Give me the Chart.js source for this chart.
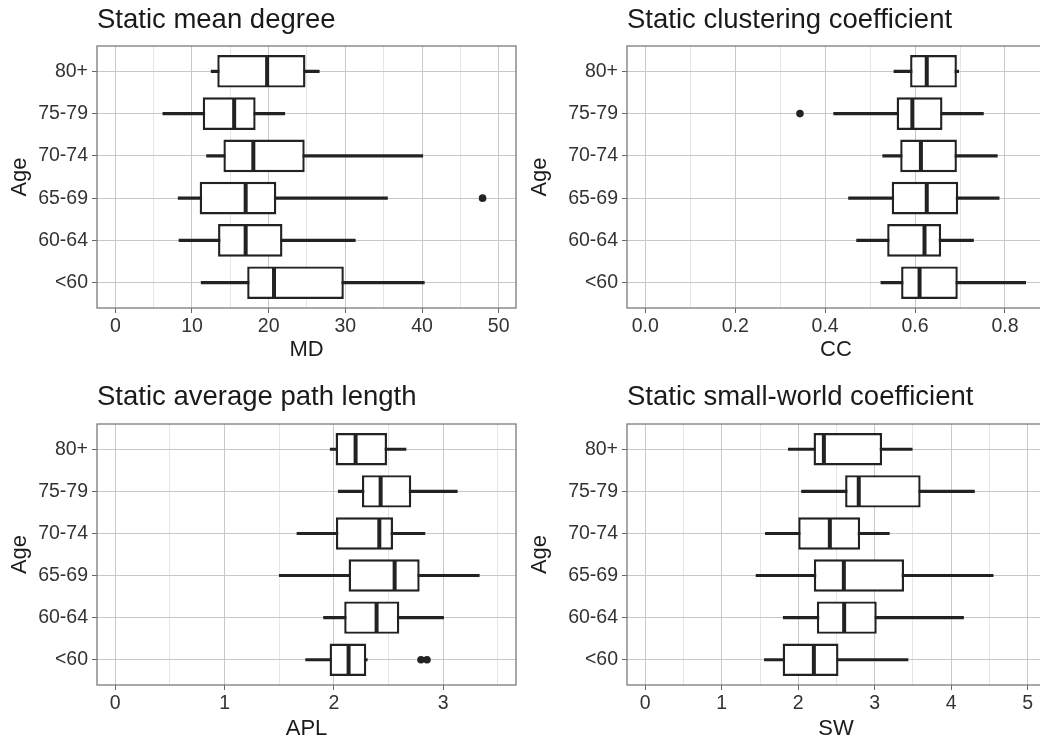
<!DOCTYPE html>
<html>
<head>
<meta charset="utf-8">
<title>Static network measures by age</title>
<script src="https://cdn.jsdelivr.net/npm/chart.js@4.4.0/dist/chart.umd.min.js"></script>
<style>
    html, body { margin: 0; padding: 0; background: #fff; width: 1040px; height: 741px; overflow: hidden; position: relative; }
    canvas { position: absolute; display: block; }
</style>
</head>
<body>
<canvas id="mdChart" width="520" height="370" style="left:0;top:0"></canvas>
<canvas id="ccChart" width="540" height="370" style="left:520px;top:0"></canvas>
<canvas id="aplChart" width="520" height="380" style="left:0;top:370px"></canvas>
<canvas id="swChart" width="540" height="380" style="left:520px;top:370px"></canvas>
<script>
// ::::: DATA :::::
const ageGroups = ['80+', '75-79', '70-74', '65-69', '60-64', '<60'];

// Static mean degree
const mdLow = [12.5, 6.2, 11.9, 8.2, 8.3, 11.2];
const mdQ1 = [13.3, 11.4, 14.1, 11.0, 13.4, 17.2];
const mdMedian = [19.8, 15.5, 18.0, 17.0, 17.0, 20.7];
const mdQ3 = [24.8, 18.3, 24.7, 21.0, 21.8, 29.8];
const mdHigh = [26.6, 22.1, 40.1, 35.5, 31.3, 40.3];
const mdOutlierAge = ['65-69'];
const mdOutlierValue = [47.9];
const mdTicks = [0, 10, 20, 30, 40, 50];
const mdTickLabels = ['0', '10', '20', '30', '40', '50'];
const mdMinorTicks = [5, 15, 25, 35, 45];

// Static clustering coefficient
const ccLow = [0.553, 0.419, 0.528, 0.452, 0.470, 0.524];
const ccQ1 = [0.589, 0.559, 0.567, 0.548, 0.538, 0.569];
const ccMedian = [0.626, 0.594, 0.613, 0.626, 0.621, 0.610];
const ccQ3 = [0.693, 0.661, 0.693, 0.696, 0.658, 0.695];
const ccHigh = [0.697, 0.752, 0.783, 0.787, 0.730, 0.846];
const ccOutlierAge = ['75-79'];
const ccOutlierValue = [0.344];
const ccTicks = [0, 0.2, 0.4, 0.6, 0.8];
const ccTickLabels = ['0.0', '0.2', '0.4', '0.6', '0.8'];
const ccMinorTicks = [0.1, 0.3, 0.5, 0.7];

// Static average path length
const aplLow = [1.966, 2.04, 1.662, 1.50, 1.905, 1.741];
const aplQ1 = [2.015, 2.256, 2.018, 2.134, 2.094, 1.96];
const aplMedian = [2.198, 2.427, 2.415, 2.555, 2.39, 2.134];
const aplQ3 = [2.485, 2.707, 2.54, 2.784, 2.598, 2.296];
const aplHigh = [2.659, 3.128, 2.832, 3.329, 3.003, 2.305];
const aplOutlierAge = ['<60', '<60'];
const aplOutlierValue = [2.796, 2.851];
const aplTicks = [0, 1, 2, 3];
const aplTickLabels = ['0', '1', '2', '3'];
const aplMinorTicks = [0.5, 1.5, 2.5, 3.5];

// Static small-world coefficient
const swLow = [1.87, 2.043, 1.57, 1.448, 1.804, 1.557];
const swQ1 = [2.2, 2.613, 2.0, 2.204, 2.243, 1.796];
const swMedian = [2.335, 2.791, 2.413, 2.596, 2.6, 2.204];
const swQ3 = [3.096, 3.6, 2.809, 3.383, 3.026, 2.526];
const swHigh = [3.49, 4.304, 3.191, 4.548, 4.161, 3.435];
const swOutlierAge = [];
const swOutlierValue = [];
const swTicks = [0, 1, 2, 3, 4, 5];
const swTickLabels = ['0', '1', '2', '3', '4', '5'];
const swMinorTicks = [0.5, 1.5, 2.5, 3.5, 4.5];


// ::::: THE BASE :::::
Chart.defaults.font.family = '"Liberation Sans", Arial, sans-serif';
Chart.defaults.color = '#333';

const ink = '#222';

// ggplot style panel frame round the plot area
const panelBorder = {
    id: 'panelBorder',
    afterDraw(chart) {
        const {ctx, chartArea: a} = chart;
        ctx.save();
        ctx.strokeStyle = '#7a7a7a';
        ctx.lineWidth = 1.3;
        ctx.strokeRect(a.left, a.top, a.right - a.left, a.bottom - a.top);
        ctx.restore();
    }
};

// ::::: Horizontal box plot, one per panel :::::
// • whisker = thin floating bar, box = floating bar q1..q3
// • median = vertical line point, outliers = dots
function createBoxPlot(canvasId, p) {
    const ageIndex = ageGroups.map((g, i) => i + 1);
    const isMajor = (c) => c.tick && p.ticks.includes(c.tick.value);

    return new Chart(document.getElementById(canvasId), {
        type: 'bar',
        data: {
            datasets: [{
                type: 'bar',
                label: 'whisker',
                data: ageIndex.map((y, i) => ({y: y, x: [p.low[i], p.high[i]]})),
                backgroundColor: ink,
                barThickness: 2.4,
                grouped: false,
                order: 4
            }, {
                type: 'bar',
                label: 'box',
                data: ageIndex.map((y, i) => ({y: y, x: [p.q1[i], p.q3[i]]})),
                backgroundColor: '#fff',
                borderColor: ink,
                borderWidth: 2.4,
                borderSkipped: false,
                categoryPercentage: 0.77,
                barPercentage: 1,
                grouped: false,
                order: 3
            }, {
                type: 'scatter',
                label: 'median',
                data: ageIndex.map((y, i) => ({x: p.median[i], y: y})),
                pointStyle: 'line',
                pointRotation: 90,
                pointRadius: 15,
                pointBorderWidth: 4,
                pointBorderColor: ink,
                order: 2
            }, {
                type: 'scatter',
                label: 'outlier',
                data: p.outlierValue.map((v, i) => ({x: v, y: ageGroups.indexOf(p.outlierAge[i]) + 1})),
                pointStyle: 'circle',
                pointRadius: 3.8,
                pointBackgroundColor: ink,
                pointBorderWidth: 0,
                order: 1
            }]
        },
        options: {
            indexAxis: 'y',
            responsive: false,
            animation: false,
            layout: {
                autoPadding: false,
                padding: {left: 0, right: p.padRight, top: 0, bottom: 0}
            },
            plugins: {
                legend: {display: false},
                tooltip: {enabled: false},
                title: {
                    display: true,
                    text: p.title,
                    align: 'start',
                    fullSize: false,
                    color: '#1a1a1a',
                    font: {size: 27.5, weight: 'normal'},
                    padding: {top: p.titleTop, bottom: p.titleBottom}
                }
            },
            scales: {
                x: {
                    type: 'linear',
                    position: 'bottom',
                    min: p.xMin,
                    max: p.xMax,
                    bounds: 'data',
                    beginAtZero: false,
                    afterBuildTicks: (s) => {
                        s.ticks = p.ticks.concat(p.minorTicks).sort((a, b) => a - b).map(v => ({value: v}));
                    },
                    afterFit: (s) => { s.height = p.xHeight; },
                    ticks: {
                        autoSkip: false,
                        maxRotation: 0,
                        padding: 2,
                        color: '#333',
                        font: {size: 19.5},
                        callback: (v) => {
                            const k = p.ticks.indexOf(v);
                            return k >= 0 ? p.tickLabels[k] : '';
                        }
                    },
                    grid: {
                        color: (c) => isMajor(c) ? '#c8c8c8' : '#e6e6e6',
                        tickColor: (c) => isMajor(c) ? '#666' : 'rgba(0,0,0,0)',
                        tickLength: 5,
                        lineWidth: 1
                    },
                    border: {display: false},
                    title: {
                        display: true,
                        text: p.xTitle,
                        color: '#1a1a1a',
                        font: {size: 22},
                        padding: {top: 0, bottom: p.xTitleBottom}
                    }
                },
                y: {
                    type: 'linear',
                    position: 'left',
                    reverse: true,
                    min: 0.4,
                    max: 6.6,
                    offset: false,
                    bounds: 'data',
                    beginAtZero: false,
                    afterBuildTicks: (s) => {
                        s.ticks = ageIndex.map(v => ({value: v}));
                    },
                    afterFit: (s) => { s.width = p.yWidth; },
                    ticks: {
                        autoSkip: false,
                        padding: 4,
                        color: '#333',
                        font: {size: 19.5},
                        callback: (v) => ageGroups[v - 1]
                    },
                    grid: {
                        offset: false,
                        color: '#c8c8c8',
                        tickColor: '#666',
                        tickLength: 5,
                        lineWidth: 1
                    },
                    border: {display: false},
                    title: {
                        display: true,
                        text: 'Age',
                        color: '#1a1a1a',
                        font: {size: 22},
                        padding: {top: 7, bottom: 0}
                    }
                }
            }
        },
        plugins: [panelBorder]
    });
}


// THE GRAPHS
createBoxPlot('mdChart', {
    title: 'Static mean degree', xTitle: 'MD',
    low: mdLow, q1: mdQ1, median: mdMedian, q3: mdQ3, high: mdHigh,
    outlierAge: mdOutlierAge, outlierValue: mdOutlierValue,
    ticks: mdTicks, tickLabels: mdTickLabels, minorTicks: mdMinorTicks,
    xMin: -2.39, xMax: 52.26,
    yWidth: 97, padRight: 4, titleTop: 4, titleBottom: 9, xHeight: 62, xTitleBottom: 7
});

createBoxPlot('ccChart', {
    title: 'Static clustering coefficient', xTitle: 'CC',
    low: ccLow, q1: ccQ1, median: ccMedian, q3: ccQ3, high: ccHigh,
    outlierAge: ccOutlierAge, outlierValue: ccOutlierValue,
    ticks: ccTicks, tickLabels: ccTickLabels, minorTicks: ccMinorTicks,
    xMin: -0.0407, xMax: 0.889,
    yWidth: 107, padRight: 15, titleTop: 4, titleBottom: 9, xHeight: 62, xTitleBottom: 7
});

createBoxPlot('aplChart', {
    title: 'Static average path length', xTitle: 'APL',
    low: aplLow, q1: aplQ1, median: aplMedian, q3: aplQ3, high: aplHigh,
    outlierAge: aplOutlierAge, outlierValue: aplOutlierValue,
    ticks: aplTicks, tickLabels: aplTickLabels, minorTicks: aplMinorTicks,
    xMin: -0.167, xMax: 3.665,
    yWidth: 97, padRight: 4, titleTop: 11, titleBottom: 10, xHeight: 65, xTitleBottom: 8
});

createBoxPlot('swChart', {
    title: 'Static small-world coefficient', xTitle: 'SW',
    low: swLow, q1: swQ1, median: swMedian, q3: swQ3, high: swHigh,
    outlierAge: swOutlierAge, outlierValue: swOutlierValue,
    ticks: swTicks, tickLabels: swTickLabels, minorTicks: swMinorTicks,
    xMin: -0.239, xMax: 5.226,
    yWidth: 107, padRight: 15, titleTop: 11, titleBottom: 10, xHeight: 65, xTitleBottom: 8
});
</script>
</body>
</html>
